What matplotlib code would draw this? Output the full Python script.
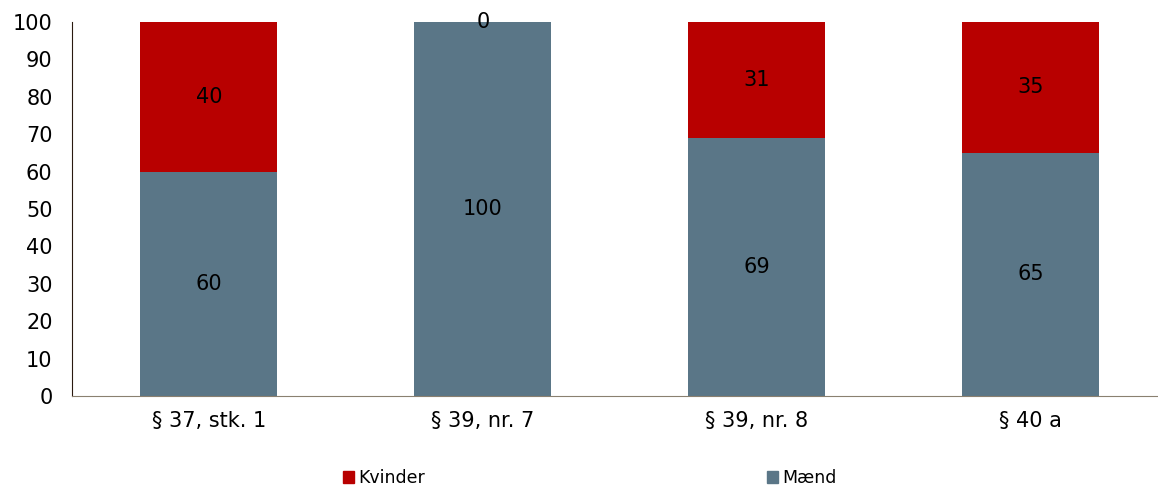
import matplotlib
matplotlib.use("Agg")
import matplotlib.pyplot as plt
from matplotlib.patches import Patch

categories = ["§ 37, stk. 1", "§ 39, nr. 7", "§ 39, nr. 8", "§ 40 a"]
maend = [60, 100, 69, 65]
kvinder = [40, 0, 31, 35]

c_m = "#5a7687"
c_k = "#b80000"

plt.rcParams['font.family'] = ['DejaVu Sans']
fig = plt.figure(figsize=(11.58, 4.87), dpi=100)
ax = fig.add_axes([72/1158, 91/487, 1 - 72/1158, (396-22)/487])

x = list(range(len(categories)))
ax.bar(x, maend, width=0.5, color=c_m, label="Mænd")
ax.bar(x, kvinder, width=0.5, bottom=maend, color=c_k, label="Kvinder")
for i in x:
    ax.text(i, maend[i] / 2, f"{maend[i]}", ha="center", va="center", fontsize=15, color="black")
    ax.text(i, maend[i] + kvinder[i] / 2, f"{kvinder[i]}", ha="center", va="center", fontsize=15, color="black")

ax.set_xlim(-0.5, 3.465)
ax.set_ylim(0, 100)
ax.set_yticks(range(0, 101, 10))
ax.set_xticks(x)
ax.set_xticklabels(categories, fontsize=15)
ax.tick_params(axis="y", labelsize=15, length=0, pad=14)
ax.tick_params(axis="x", length=0, pad=11)
for s in ["top", "right"]:
    ax.spines[s].set_visible(False)
ax.spines["left"].set_color("#2a1a10")
ax.spines["bottom"].set_color("#8a8070")

for lab, col, xpx in [("Kvinder", c_k, 343), ("Mænd", c_m, 767)]:
    fig.legend(handles=[Patch(color=col, label=lab)], loc="center left",
               bbox_to_anchor=(xpx/1158, 1 - 478/487), frameon=False, fontsize=12.5,
               handlelength=0.65, handleheight=0.65, handletextpad=0.25,
               borderpad=0, borderaxespad=0)

fig.savefig("out.png", dpi=100)
